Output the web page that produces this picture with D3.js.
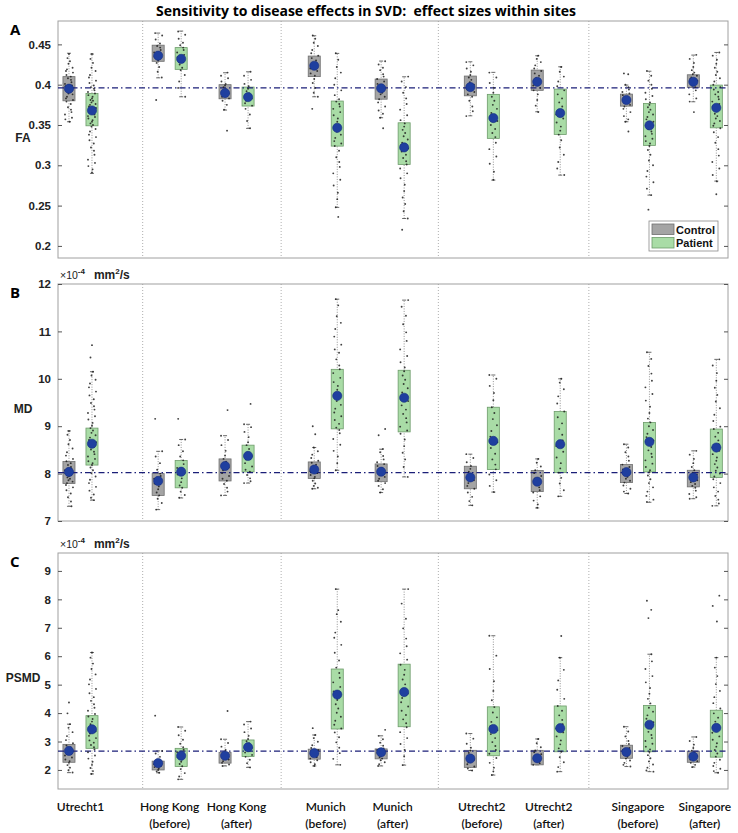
<!DOCTYPE html>
<html><head><meta charset="utf-8">
<script src="https://cdn.jsdelivr.net/npm/d3@7"></script>
<style>body{margin:0;background:#fff;}svg{display:block;}</style>
</head><body><div id="chart"></div>
<script>
// ---------- DATA ----------
const categories = [["Utrecht1",""],["Hong Kong","(before)"],["Hong Kong","(after)"],["Munich","(before)"],["Munich","(after)"],["Utrecht2","(before)"],["Utrecht2","(after)"],["Singapore","(before)"],["Singapore","(after)"]];
const siteOfCategory = [0,1,1,2,2,3,3,4,4];
const separatorsAt = [0.93, 3.0, 5.35, 7.6];
const seriesNames = ["Control","Patient"];

// stats: [whiskerLow, q1, mean, q3, whiskerHigh]
const faControlStats = [[0.354,0.380,0.395,0.410,0.439],[0.4085,0.429,0.436,0.449,0.464],[0.3685,0.3825,0.3896,0.400,0.4148],[0.385,0.410,0.4235,0.4355,0.4607],[0.359,0.382,0.3955,0.407,0.4293],[0.3614,0.3862,0.397,0.4107,0.4284],[0.3664,0.393,0.4036,0.4181,0.4359],[0.354,0.3734,0.381,0.3883,0.3995],[0.3788,0.3966,0.4036,0.4123,0.4367]];
const faPatientStats = [[0.290,0.349,0.368,0.389,0.438],[0.385,0.419,0.432,0.446,0.4665],[0.3458,0.3735,0.3846,0.397,0.416],[0.2478,0.3238,0.3465,0.3797,0.4388],[0.234,0.3011,0.3222,0.3527,0.4098],[0.2816,0.3334,0.3586,0.388,0.4153],[0.2878,0.3383,0.3648,0.3945,0.4222],[0.263,0.3247,0.3495,0.3768,0.4167],[0.2804,0.3465,0.3713,0.3995,0.440]];
const mdControlStats = [[7.31,7.79,8.035,8.255,8.90],[7.24,7.54,7.845,8.00,8.47],[7.54,7.845,8.16,8.31,8.80],[7.68,7.896,8.086,8.246,8.55],[7.60,7.83,8.04,8.204,8.515],[7.33,7.68,7.92,8.155,8.41],[7.275,7.62,7.83,8.065,8.31],[7.58,7.81,8.03,8.19,8.62],[7.47,7.72,7.92,8.07,8.48]];
const mdPatientStats = [[7.44,8.18,8.63,8.96,10.15],[7.486,7.70,8.04,8.276,8.72],[7.80,8.035,8.373,8.60,9.04],[8.07,8.944,9.64,10.20,11.68],[7.93,8.88,9.60,10.18,11.66],[7.61,8.086,8.69,9.40,10.08],[7.52,8.02,8.62,9.31,10.00],[7.395,8.035,8.67,9.08,10.56],[7.32,7.92,8.55,8.94,10.41]];
const psmdControlStats = [[1.905,2.27,2.67,2.90,3.61],[1.90,2.00,2.24,2.31,2.67],[2.14,2.24,2.50,2.62,3.08],[2.14,2.38,2.59,2.73,3.23],[2.14,2.39,2.62,2.74,3.20],[1.98,2.09,2.40,2.69,3.28],[2.18,2.18,2.41,2.69,3.09],[2.12,2.41,2.63,2.87,3.52],[2.10,2.27,2.47,2.66,3.16]];
const psmdPatientStats = [[1.86,2.76,3.43,3.91,6.13],[1.67,2.12,2.50,2.76,3.51],[2.09,2.47,2.80,3.055,3.70],[2.18,3.44,4.65,5.55,8.36],[2.17,3.52,4.74,5.72,8.36],[1.82,2.50,3.44,4.22,6.72],[1.94,2.64,3.47,4.25,5.95],[1.94,2.64,3.59,4.27,6.07],[1.90,2.45,3.48,4.10,5.95]];

// individual subjects (estimated)
const faControlDots = [
 [0.438,0.433,0.429,0.426,0.421,0.419,0.417,0.415,0.412,0.410,0.408,0.406,0.403,0.401,0.399,0.398,0.396,0.394,0.393,0.391,0.389,0.388,0.385,0.383,0.381,0.379,0.376,0.372,0.369,0.366,0.363,0.359,0.357,0.354],
 [0.464,0.461,0.456,0.451,0.448,0.446,0.443,0.440,0.437,0.435,0.432,0.430,0.427,0.422,0.416,0.409,0.381],
 [0.415,0.411,0.408,0.404,0.401,0.399,0.397,0.394,0.392,0.389,0.387,0.385,0.383,0.380,0.375,0.369,0.343],
 [0.461,0.457,0.452,0.448,0.443,0.439,0.436,0.433,0.430,0.427,0.425,0.422,0.420,0.417,0.414,0.411,0.407,0.402,0.396,0.390,0.385,0.370],
 [0.429,0.425,0.421,0.418,0.413,0.410,0.407,0.404,0.401,0.398,0.396,0.393,0.390,0.388,0.385,0.382,0.378,0.373,0.368,0.364,0.359,0.346],
 [0.428,0.424,0.420,0.416,0.412,0.409,0.406,0.403,0.400,0.397,0.394,0.391,0.388,0.385,0.380,0.373,0.367,0.361],
 [0.436,0.432,0.428,0.424,0.420,0.417,0.414,0.411,0.408,0.405,0.402,0.399,0.396,0.393,0.388,0.381,0.374,0.366],
 [0.414,0.413,0.400,0.397,0.394,0.391,0.389,0.387,0.385,0.383,0.381,0.379,0.377,0.375,0.373,0.370,0.366,0.361,0.357,0.354,0.342],
 [0.437,0.432,0.427,0.422,0.418,0.415,0.413,0.411,0.409,0.407,0.405,0.403,0.401,0.399,0.397,0.393,0.388,0.383,0.379,0.366]];
const faPatientDots = [
 [0.438,0.432,0.427,0.421,0.417,0.412,0.409,0.405,0.402,0.399,0.397,0.395,0.393,0.391,0.389,0.387,0.385,0.383,0.381,0.380,0.378,0.376,0.375,0.373,0.371,0.370,0.368,0.366,0.365,0.363,0.361,0.360,0.358,0.356,0.354,0.352,0.350,0.348,0.345,0.342,0.338,0.335,0.331,0.327,0.322,0.318,0.313,0.307,0.303,0.299,0.295,0.291],
 [0.466,0.462,0.457,0.452,0.449,0.446,0.443,0.440,0.437,0.434,0.431,0.428,0.425,0.421,0.418,0.412,0.404,0.396,0.385],
 [0.416,0.411,0.406,0.401,0.398,0.395,0.392,0.389,0.386,0.383,0.380,0.377,0.374,0.370,0.363,0.355,0.346],
 [0.439,0.431,0.422,0.415,0.408,0.400,0.393,0.387,0.382,0.379,0.376,0.373,0.370,0.366,0.362,0.358,0.354,0.350,0.346,0.342,0.338,0.334,0.330,0.327,0.324,0.318,0.310,0.304,0.298,0.290,0.282,0.275,0.266,0.258,0.248,0.236],
 [0.410,0.404,0.397,0.390,0.383,0.376,0.369,0.362,0.356,0.352,0.348,0.344,0.340,0.336,0.332,0.328,0.325,0.321,0.317,0.313,0.309,0.305,0.301,0.296,0.290,0.284,0.276,0.268,0.260,0.252,0.243,0.234,0.220],
 [0.415,0.409,0.402,0.396,0.390,0.385,0.380,0.375,0.370,0.365,0.360,0.355,0.350,0.345,0.340,0.335,0.328,0.320,0.311,0.302,0.292,0.282],
 [0.422,0.416,0.410,0.404,0.398,0.393,0.388,0.383,0.378,0.373,0.368,0.363,0.358,0.353,0.348,0.343,0.338,0.331,0.322,0.313,0.304,0.296,0.288],
 [0.417,0.411,0.405,0.400,0.395,0.390,0.386,0.382,0.378,0.375,0.372,0.369,0.366,0.363,0.360,0.357,0.354,0.351,0.348,0.345,0.342,0.339,0.336,0.333,0.330,0.327,0.324,0.319,0.313,0.306,0.300,0.293,0.286,0.279,0.271,0.263,0.245],
 [0.440,0.436,0.431,0.426,0.421,0.416,0.412,0.408,0.404,0.400,0.397,0.394,0.391,0.388,0.385,0.382,0.379,0.376,0.373,0.370,0.367,0.364,0.361,0.358,0.355,0.352,0.349,0.346,0.341,0.335,0.328,0.320,0.312,0.304,0.296,0.288,0.280,0.264]];
const mdControlDots = [
 [8.90,8.82,8.71,8.62,8.53,8.45,8.38,8.31,8.26,8.22,8.18,8.14,8.10,8.07,8.04,8.01,7.98,7.95,7.92,7.89,7.86,7.83,7.80,7.76,7.71,7.65,7.58,7.50,7.41,7.31],
 [9.155,8.47,8.36,8.22,8.08,8.00,7.95,7.89,7.84,7.79,7.73,7.67,7.60,7.54,7.47,7.38,7.24],
 [9.34,8.80,8.71,8.60,8.48,8.38,8.31,8.25,8.19,8.13,8.07,8.01,7.95,7.89,7.85,7.78,7.70,7.62,7.54],
 [9.00,8.83,8.55,8.47,8.40,8.33,8.27,8.23,8.19,8.15,8.11,8.08,8.05,8.01,7.97,7.93,7.90,7.85,7.79,7.74,7.70,7.68],
 [8.94,8.81,8.52,8.45,8.37,8.30,8.24,8.20,8.16,8.12,8.08,8.05,8.01,7.97,7.93,7.89,7.85,7.80,7.74,7.67,7.60],
 [8.41,8.33,8.24,8.16,8.10,8.04,7.98,7.92,7.86,7.80,7.74,7.68,7.60,7.51,7.42,7.33],
 [8.31,8.23,8.15,8.07,8.01,7.95,7.89,7.83,7.77,7.71,7.65,7.60,7.52,7.43,7.35,7.28],
 [8.62,8.55,8.45,8.36,8.27,8.19,8.14,8.09,8.05,8.01,7.97,7.93,7.89,7.85,7.81,7.75,7.68,7.62,7.58],
 [8.48,8.40,8.31,8.22,8.14,8.07,8.02,7.98,7.94,7.90,7.86,7.82,7.78,7.74,7.70,7.64,7.57,7.50,7.47]];
const mdPatientDots = [
 [10.71,10.45,10.15,10.07,9.98,9.90,9.82,9.73,9.65,9.57,9.49,9.42,9.35,9.28,9.21,9.14,9.07,9.01,8.96,8.91,8.86,8.81,8.76,8.71,8.66,8.61,8.56,8.51,8.46,8.41,8.36,8.31,8.26,8.22,8.18,8.13,8.07,8.01,7.94,7.87,7.80,7.72,7.64,7.56,7.49,7.44],
 [9.155,8.72,8.60,8.47,8.36,8.28,8.20,8.12,8.05,7.98,7.90,7.82,7.75,7.70,7.62,7.55,7.49],
 [9.47,9.04,8.98,8.88,8.77,8.66,8.60,8.52,8.44,8.37,8.30,8.22,8.15,8.08,8.04,7.97,7.90,7.84,7.80],
 [11.68,11.55,11.32,11.18,11.05,10.89,10.72,10.62,10.55,10.41,10.28,10.20,10.12,10.02,9.93,9.85,9.77,9.69,9.61,9.53,9.45,9.37,9.29,9.21,9.13,9.05,8.97,8.92,8.85,8.73,8.61,8.48,8.36,8.22,8.07],
 [11.66,11.52,11.33,11.15,10.98,10.80,10.62,10.48,10.35,10.24,10.16,10.07,9.98,9.89,9.80,9.71,9.62,9.53,9.44,9.35,9.26,9.17,9.08,8.99,8.91,8.84,8.72,8.58,8.44,8.30,8.14,7.93],
 [10.08,10.00,9.85,9.70,9.55,9.40,9.28,9.15,9.02,8.90,8.78,8.66,8.54,8.42,8.30,8.19,8.09,7.98,7.86,7.74,7.61],
 [10.00,9.92,9.78,9.63,9.48,9.31,9.19,9.06,8.94,8.82,8.70,8.58,8.46,8.34,8.22,8.11,8.02,7.91,7.79,7.65,7.52],
 [10.56,10.42,10.27,10.11,9.96,9.82,9.68,9.54,9.41,9.28,9.16,9.08,9.00,8.92,8.84,8.77,8.70,8.63,8.56,8.49,8.42,8.35,8.28,8.21,8.14,8.07,8.03,7.96,7.88,7.80,7.71,7.62,7.53,7.45,7.40],
 [10.41,10.28,10.12,9.96,9.81,9.66,9.52,9.38,9.24,9.11,8.99,8.94,8.86,8.78,8.70,8.62,8.55,8.48,8.41,8.34,8.27,8.20,8.13,8.06,8.00,7.94,7.88,7.80,7.71,7.62,7.53,7.45,7.37,7.32]];
const psmdControlDots = [
 [4.37,3.99,3.61,3.48,3.33,3.19,3.05,2.94,2.86,2.79,2.72,2.65,2.58,2.51,2.44,2.37,2.31,2.25,2.17,2.08,1.99,1.91],
 [3.91,2.67,2.58,2.46,2.36,2.30,2.25,2.20,2.15,2.10,2.05,2.00,1.95,1.90],
 [4.075,3.08,2.95,2.82,2.70,2.61,2.55,2.49,2.43,2.37,2.31,2.25,2.19,2.14],
 [3.47,3.23,3.12,2.99,2.87,2.77,2.70,2.65,2.60,2.55,2.50,2.45,2.40,2.34,2.27,2.20,2.14],
 [3.41,3.20,3.08,2.96,2.85,2.76,2.70,2.65,2.60,2.55,2.50,2.45,2.40,2.34,2.27,2.20,2.14],
 [3.28,3.10,2.92,2.78,2.68,2.60,2.52,2.44,2.36,2.28,2.20,2.12,2.05,1.98],
 [3.09,2.94,2.80,2.69,2.62,2.55,2.48,2.42,2.36,2.30,2.24,2.18],
 [3.52,3.35,3.18,3.02,2.91,2.84,2.77,2.70,2.64,2.58,2.52,2.46,2.40,2.33,2.25,2.18,2.12],
 [3.16,3.02,2.89,2.77,2.68,2.61,2.55,2.49,2.43,2.37,2.31,2.25,2.18,2.10]];
const psmdPatientDots = [
 [6.13,5.95,5.74,5.55,5.36,5.18,5.01,4.85,4.70,4.56,4.43,4.31,4.19,4.08,3.97,3.88,3.79,3.70,3.61,3.52,3.44,3.36,3.28,3.20,3.12,3.04,2.96,2.88,2.80,2.72,2.62,2.51,2.40,2.29,2.18,2.07,1.96,1.86],
 [3.51,3.38,3.22,3.06,2.92,2.80,2.71,2.62,2.53,2.45,2.37,2.29,2.21,2.13,2.03,1.89,1.77,1.67],
 [3.70,3.60,3.46,3.33,3.20,3.09,3.01,2.93,2.85,2.77,2.69,2.61,2.53,2.46,2.36,2.24,2.09],
 [8.36,7.62,7.48,7.21,6.83,6.65,6.40,6.12,5.85,5.60,5.41,5.24,5.08,4.92,4.76,4.61,4.46,4.31,4.16,4.01,3.87,3.73,3.59,3.46,3.32,3.15,2.97,2.78,2.59,2.39,2.18],
 [8.36,7.85,7.32,6.98,6.62,6.35,6.10,5.88,5.70,5.52,5.35,5.18,5.01,4.85,4.69,4.53,4.38,4.23,4.08,3.93,3.78,3.64,3.50,3.33,3.12,2.91,2.70,2.48,2.17],
 [6.72,6.02,5.55,5.12,4.78,4.45,4.21,4.02,3.85,3.69,3.54,3.40,3.26,3.12,2.98,2.84,2.70,2.57,2.42,2.25,2.08,1.95,1.82],
 [6.71,5.95,5.52,5.15,4.82,4.50,4.25,4.08,3.92,3.76,3.61,3.46,3.32,3.18,3.04,2.90,2.76,2.64,2.45,2.27,2.10,1.94],
 [7.95,7.63,7.34,6.07,5.82,5.55,5.30,5.08,4.88,4.68,4.50,4.34,4.19,4.05,3.92,3.80,3.68,3.56,3.45,3.34,3.23,3.12,3.02,2.92,2.82,2.72,2.63,2.52,2.41,2.30,2.19,2.08,1.98,1.94],
 [8.13,7.77,7.22,5.95,5.60,5.30,5.02,4.78,4.56,4.35,4.16,3.99,3.84,3.70,3.57,3.44,3.31,3.18,3.06,2.94,2.82,2.70,2.58,2.47,2.36,2.25,2.14,2.04,1.96,1.90]];

const referenceValues = {FA:0.396, MD:8.02, PSMD:2.66};
const faTicks = [0.2,0.25,0.3,0.35,0.4,0.45];
const mdTicks = [7,8,9,10,11,12];
const psmdTicks = [2,3,4,5,6,7,8,9];

// ---------- LAYOUT ----------
const W = 738, H = 833;
const svg = d3.select("#chart").append("svg").attr("width", W).attr("height", H)
  .style("font-family","'Liberation Sans', Arial, sans-serif");

const groupPos = categories.map((c,i)=> i + siteOfCategory[i]/3);
const x = d3.scaleLinear().domain([-0.336, 9.68]).range([58, 728]);
const offset = 0.172, boxW = 0.18;
const colors = {Control:{fill:"#a4a4a4", stroke:"#6e6e6e"}, Patient:{fill:"#a9dca6", stroke:"#6d9b6a"}};
const jitterPattern = [0,-3,2.5,-1.5,4,-4,1,-2.5,3,-0.5,1.8,-3.6,3.6,-1,0.6,-2,2];

const panels = [
  {letter:"A", label:"FA", top:21, bottom:258, domain:[0.185,0.479], ticks:faTicks, fmt:d=>String(d),
   stats:[faControlStats, faPatientStats], dots:[faControlDots, faPatientDots], ref:referenceValues.FA, unit:false, labelY:138},
  {letter:"B", label:"MD", top:284, bottom:521, domain:[7,12], ticks:mdTicks, fmt:d=>String(d),
   stats:[mdControlStats, mdPatientStats], dots:[mdControlDots, mdPatientDots], ref:referenceValues.MD, unit:true, labelY:409},
  {letter:"C", label:"PSMD", top:553, bottom:789, domain:[1.33,9.63], ticks:psmdTicks, fmt:d=>String(d),
   stats:[psmdControlStats, psmdPatientStats], dots:[psmdControlDots, psmdPatientDots], ref:referenceValues.PSMD, unit:true, labelY:678}
];

svg.append("text").attr("x", 366).attr("y", 16).attr("text-anchor","middle")
  .attr("xml:space","preserve").style("white-space","pre")
  .style("font-family","'Open Sans', sans-serif").style("font-weight","700").style("font-size","14px")
  .text("Sensitivity to disease effects in SVD:  effect sizes within sites");

panels.forEach(p=>{
  const y = d3.scaleLinear().domain(p.domain).range([p.bottom, p.top]);
  const g = svg.append("g");
  g.append("rect").attr("x", x.range()[0]).attr("y", p.top).attr("width", x.range()[1]-x.range()[0])
    .attr("height", p.bottom-p.top).attr("fill","none").attr("stroke","#a0a0a0").attr("stroke-width",1);
  const la = g.append("g").attr("transform",`translate(${x.range()[0]},0)`)
    .call(d3.axisLeft(y).tickValues(p.ticks).tickFormat(p.fmt).tickSizeInner(-4).tickSizeOuter(0).tickPadding(7));
  la.select(".domain").remove();
  la.selectAll("line").attr("stroke","#555");
  la.selectAll("text").style("font-size","11.5px").style("font-weight","700").attr("fill","#222")
    .style("font-family","'Liberation Sans', Arial, sans-serif");
  const ra = g.append("g").attr("transform",`translate(${x.range()[1]},0)`)
    .call(d3.axisRight(y).tickValues(p.ticks).tickFormat("").tickSizeInner(-4).tickSizeOuter(0));
  ra.select(".domain").remove();
  ra.selectAll("line").attr("stroke","#555");
  g.selectAll(".sep").data(separatorsAt).join("line")
    .attr("x1",d=>x(d)).attr("x2",d=>x(d)).attr("y1",p.top).attr("y2",p.bottom)
    .attr("stroke","#9a9a9a").attr("stroke-width",0.8).attr("stroke-dasharray","1,2");
  svg.append("text").attr("x",10).attr("y",p.top+14).text(p.letter)
    .style("font-family","'Open Sans', sans-serif").style("font-weight","700").style("font-size","15px");
  svg.append("text").attr("x",23).attr("y",p.labelY+4).attr("text-anchor","middle").text(p.label)
    .style("font-weight","700").style("font-size","12px").attr("fill","#222");
  if(p.unit){
    const t = svg.append("text").attr("x",60).attr("y",p.top-5).attr("fill","#222");
    t.append("tspan").text("\u00d710").style("font-size","10.5px");
    t.append("tspan").text("-4").attr("dy",-5).style("font-size","8px").style("font-weight","700");
    t.append("tspan").text("mm").attr("dx",9).attr("dy",5).style("font-size","12px").style("font-weight","700");
    t.append("tspan").text("2").attr("dy",-5).style("font-size","8px").style("font-weight","700");
    t.append("tspan").text("/s").attr("dy",5).style("font-size","12px").style("font-weight","700");
  }

  seriesNames.forEach((s,si)=>{
    const dx = si===0 ? -offset : offset;
    const col = colors[s];
    const gs = g.append("g");
    const st = p.stats[si];
    gs.selectAll(".wh").data(st).join("line")
      .attr("x1",(d,i)=>x(groupPos[i]+dx)).attr("x2",(d,i)=>x(groupPos[i]+dx))
      .attr("y1",d=>y(d[0])).attr("y2",d=>y(d[4]))
      .attr("stroke","#777").attr("stroke-width",0.8).attr("stroke-dasharray","1,1.5");
    [0,4].forEach(k=>{
      gs.selectAll(".cap"+k).data(st).join("line")
        .attr("x1",(d,i)=>x(groupPos[i]+dx)-2).attr("x2",(d,i)=>x(groupPos[i]+dx)+2)
        .attr("y1",d=>y(d[k])).attr("y2",d=>y(d[k])).attr("stroke","#444").attr("stroke-width",0.8);
    });
    gs.selectAll(".bx").data(st).join("rect")
      .attr("x",(d,i)=>x(groupPos[i]+dx-boxW/2)).attr("width",x(boxW)-x(0))
      .attr("y",d=>y(d[3])).attr("height",d=>y(d[1])-y(d[3]))
      .attr("fill",col.fill).attr("stroke",col.stroke).attr("stroke-width",0.8);
  });
  g.append("line").attr("x1",x.range()[0]).attr("x2",x.range()[1]).attr("y1",y(p.ref)).attr("y2",y(p.ref))
    .attr("stroke","#1b1f78").attr("stroke-width",1.2).attr("stroke-dasharray","6,3,1.5,3");
  seriesNames.forEach((s,si)=>{
    const dx = si===0 ? -offset : offset;
    const pts = [];
    p.dots[si].forEach((arr,gi)=>arr.forEach((v,j)=>pts.push({gi, v, j})));
    g.append("g").selectAll("circle").data(pts).join("circle")
      .attr("cx",d=>x(groupPos[d.gi]+dx) + jitterPattern[(d.j*3 + d.gi) % jitterPattern.length])
      .attr("cy",d=>y(d.v)).attr("r",0.95).attr("fill","#1e1e1e").attr("opacity",0.85);
  });
  seriesNames.forEach((s,si)=>{
    const dx = si===0 ? -offset : offset;
    g.append("g").selectAll("circle").data(p.stats[si]).join("circle")
      .attr("cx",(d,i)=>x(groupPos[i]+dx)).attr("cy",d=>y(d[2])).attr("r",4.6)
      .attr("fill","#1f3f9f").attr("stroke","#142c80").attr("stroke-width",0.6);
  });
});

const lg = svg.append("g").attr("transform","translate(649,221)");
lg.append("rect").attr("width",69).attr("height",30).attr("fill","#fff").attr("stroke","#8a8a8a").attr("stroke-width",0.8);
seriesNames.forEach((s,i)=>{
  lg.append("rect").attr("x",3).attr("y",3+i*13.5).attr("width",22).attr("height",10.5)
    .attr("fill",colors[s].fill).attr("stroke",colors[s].stroke).attr("stroke-width",0.8);
  lg.append("text").attr("x",27).attr("y",12.5+i*13.5).text(s)
    .style("font-size","11px").style("font-weight","700").attr("fill","#111");
});

const xl = svg.append("g").style("font-family","Lato, 'Open Sans', sans-serif").style("font-size","12px")
  .style("font-weight","600").attr("fill","#111");
categories.forEach((c,i)=>{
  const t = xl.append("text").attr("x",x(groupPos[i])).attr("y",811).attr("text-anchor","middle");
  t.append("tspan").attr("x",x(groupPos[i])).text(c[0]);
  if(c[1]) t.append("tspan").attr("x",x(groupPos[i])).attr("dy",17).text(c[1]);
});
</script>
</body></html>
